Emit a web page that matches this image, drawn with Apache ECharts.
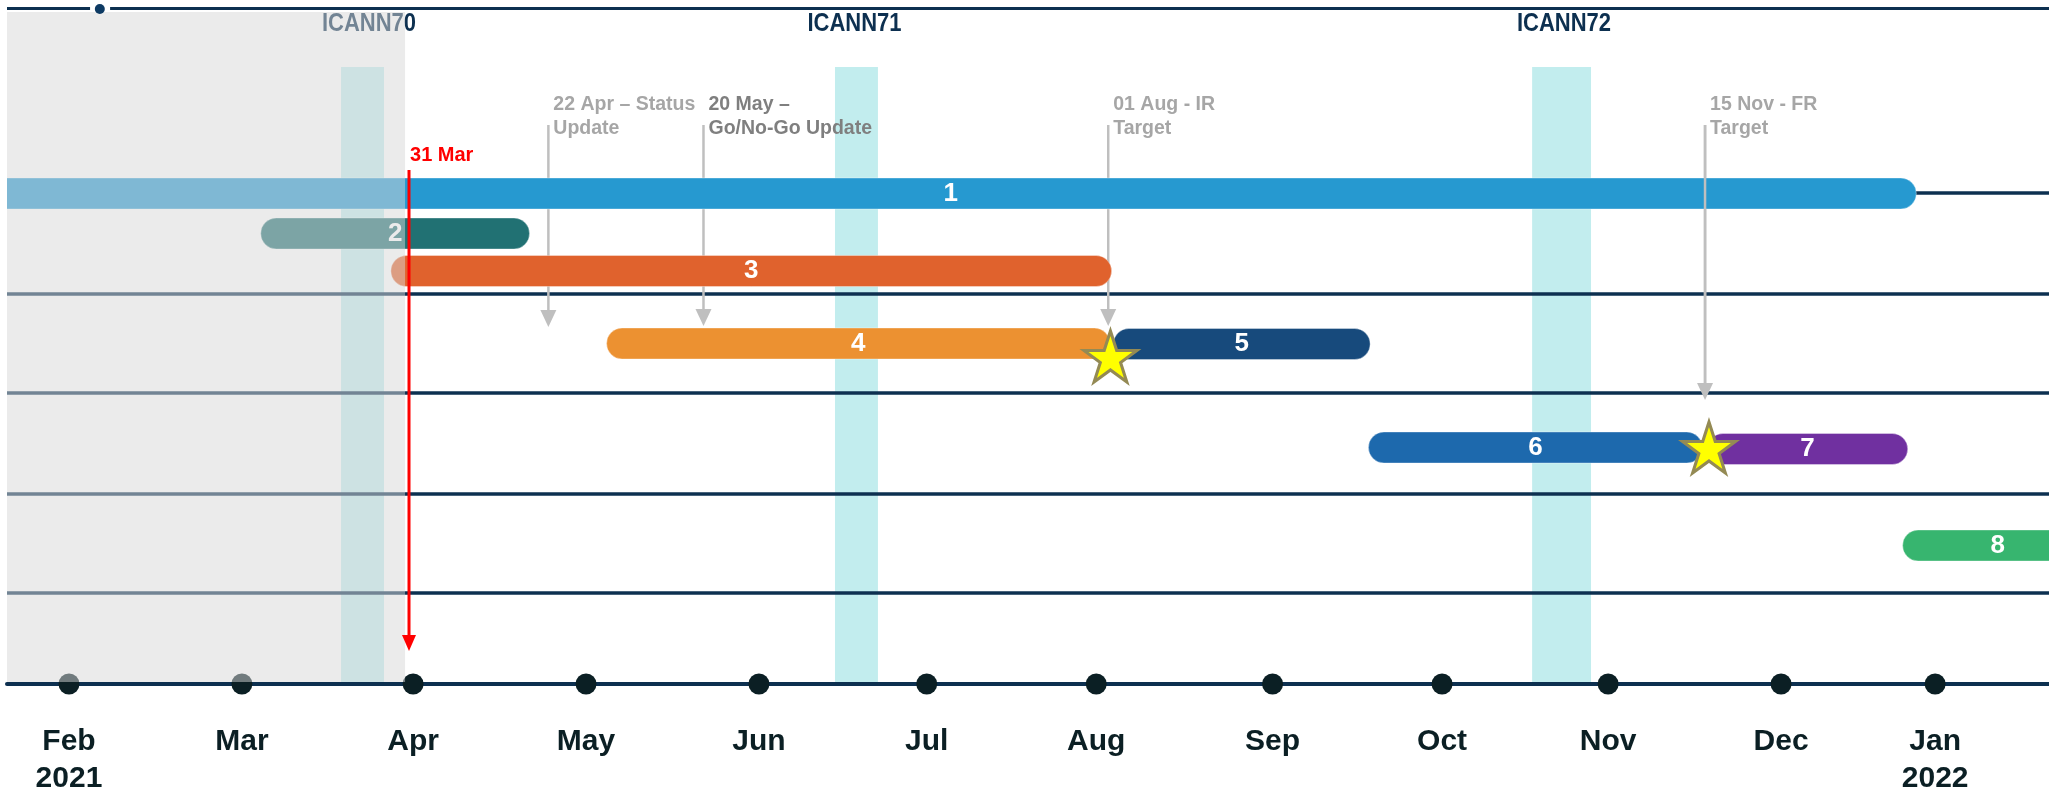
<!DOCTYPE html>
<html><head><meta charset="utf-8">
<script src="https://cdn.jsdelivr.net/npm/echarts@6/dist/echarts.min.js"></script>
<style>html,body{margin:0;padding:0;background:#fff}#chart{width:2049px;height:796px}</style>
</head><body><div id="chart"></div>
<script>
// x scale: month units, 0 = start of Feb 2021, 1 = Mar, ... ; y scale: lane units (top -> bottom)
const monthLabels = ['Feb\n2021','Mar','Apr','May','Jun','Jul','Aug','Sep','Oct','Nov','Dec','Jan\n2022'];
const monthTicks  = [0, 1.01, 2.01, 3.02, 4.03, 5.01, 6.0, 7.03, 8.02, 8.99, 10.0, 10.9];

const taskNames = ['1','2','3','4','5','6','7','8'];
const taskStart = [-0.49, 1.12, 1.88, 3.14, 6.10, 7.59, 9.57, 10.71];
const taskEnd   = [10.79, 2.69, 6.09, 6.08, 7.60, 9.54, 10.74, 11.82];
const taskLane  = [1.995, 2.395, 2.77, 3.495, 3.50, 4.535, 4.55, 5.515];

const icannNames  = ['ICANN70','ICANN71','ICANN72'];
const icannStart  = [1.589, 4.474, 8.546];
const icannEnd    = [1.840, 4.725, 8.890];
const icannLabelX = [1.752, 4.588, 8.732];

const markerTexts   = ['22 Apr – Status\nUpdate','20 May –\nGo/No-Go Update','01 Aug - IR\nTarget','15 Nov - FR\nTarget'];
const markerX       = [2.80, 3.706, 6.07, 9.556];
const markerTopLane = [1.31, 1.31, 1.31, 1.31];
const markerTipLane = [3.33, 3.32, 3.32, 4.06];

const starX    = [6.083, 9.579];
const starLane = [3.625, 4.535];

const todayText = ['31 Mar'];
const todayX = [1.986];
const todayTopLane = [1.76];
const todayTipLane = [6.57];

const pastEnd = [1.963];
const rowLines = [1.99, 3, 3.99, 5, 5.99];
const headerLane = 0.14;
const headerDotX = [0.18];

// ---- styles ----
const X_MIN = -0.3621, X_MAX = 11.565, Y_MIN = 0.1, Y_MAX = 6.9;
const taskColors = ['#2699D0','#217173','#E0622D','#EC9131','#174A7C','#1D69AD','#7030A0','#37B56F'];
const markerColors = ['#A6A6A6','#7F7F7F','#A6A6A6','#A6A6A6'];
const markerInFront = [false, false, false, true];
const NAVY = '#0D3050';
const FONT = '"Liberation Sans", Arial, sans-serif';

const chart = echarts.init(document.getElementById('chart'), null, {renderer:'canvas'});

function markerLine(api, col){
  const top = api.coord([api.value(0), api.value(1)]);
  const tip = api.coord([api.value(0), api.value(2)]);
  return {type:'line', shape:{x1:top[0], y1:top[1], x2:tip[0], y2:tip[1]-15}, style:{stroke:col, lineWidth:2.5}};
}

const option = {
  animation: false,
  grid: {left: 7, right: 0, top: 4, bottom: 112},
  xAxis: {type:'value', min:X_MIN, max:X_MAX, z: 4,
    axisLine:{show:true, onZero:false, lineStyle:{color:NAVY, width:4}},
    axisTick:{show:false}, axisLabel:{show:false}, splitLine:{show:false}},
  yAxis: {type:'value', inverse:true, min:Y_MIN, max:Y_MAX, show:false},
  series: [
    { // ICANN meeting bands
      type:'custom', z:1, silent:true, clip:true,
      data: icannNames.map((n,i)=>[icannStart[i], icannEnd[i], icannLabelX[i]]),
      renderItem(params, api){
        const i = params.dataIndex;
        const a = api.coord([api.value(0), 0.73]);
        const b = api.coord([api.value(1), Y_MAX]);
        const lab = api.coord([api.value(2), 0.30]);
        return {type:'group', children:[
          {type:'rect', shape:{x:a[0], y:a[1], width:b[0]-a[0], height:b[1]-a[1]}, style:{fill:'#C2EDEE'}},
          {type:'text', x:lab[0], y:lab[1], scaleX:0.88, style:{text:icannNames[i], fill:NAVY, font:'bold 25px '+FONT, align:'center', verticalAlign:'middle'}}
        ]};
      }
    },
    { // row separators
      type:'custom', z:1, silent:true,
      data: rowLines.map(v=>[v]),
      renderItem(params, api){
        const a = api.coord([X_MIN, api.value(0)]);
        const b = api.coord([X_MAX, api.value(0)]);
        return {type:'line', shape:{x1:a[0], y1:a[1], x2:b[0], y2:b[1]}, style:{stroke:NAVY, lineWidth:3.5}};
      }
    },
    { // milestone arrows
      type:'custom', z:2, silent:true,
      data: markerX.map((x,i)=>[x, markerTopLane[i], markerTipLane[i]]),
      renderItem(params, api){
        const i = params.dataIndex;
        const top = api.coord([api.value(0), api.value(1)]);
        const tip = api.coord([api.value(0), api.value(2)]);
        const ah = 17, aw = 16;
        return {type:'group', children:[
          markerLine(api, '#BFBFBF'),
          {type:'polygon', shape:{points:[[tip[0]-aw/2, tip[1]-ah],[tip[0]+aw/2, tip[1]-ah],[tip[0], tip[1]]]}, style:{fill:'#BFBFBF'}},
          {type:'text', x:top[0]+5, y:top[1]-32, style:{text:markerTexts[i], fill:markerColors[i], font:'bold 19.5px '+FONT, lineHeight:24, verticalAlign:'top', align:'left'}}
        ]};
      }
    },
    { // task bars
      type:'custom', z:3, silent:true, clip:true,
      data: taskNames.map((n,i)=>[taskStart[i], taskEnd[i], taskLane[i]]),
      renderItem(params, api){
        const i = params.dataIndex;
        const s = api.coord([api.value(0), api.value(2)]);
        const e = api.coord([api.value(1), api.value(2)]);
        const h = api.size([0, 0.31])[1];
        const r = h/2;
        const rl = api.value(0) < X_MIN ? 0 : r;
        const rr = api.value(1) > X_MAX ? 0 : r;
        return {type:'rect',
          shape:{x:s[0], y:s[1]-h/2, width:e[0]-s[0], height:h, r:[rl, rr, rr, rl]},
          style:{fill:taskColors[i], stroke:'rgba(255,255,255,0.35)', lineWidth:1},
          textContent:{style:{text:taskNames[i], fill:'#FFFFFF', font:'bold 26px '+FONT}},
          textConfig:{position:'inside'}};
      }
    },
    { // arrow shafts that sit in front of the bars
      type:'custom', z:3.5, silent:true,
      data: markerX.map((x,i)=>[x, markerTopLane[i], markerTipLane[i]]).filter((d,i)=>markerInFront[i]),
      renderItem(params, api){ return markerLine(api, '#BFBFBF'); }
    },
    { // month markers on the time axis
      type:'scatter', z:5, silent:true,
      symbol:'circle', symbolSize:21,
      itemStyle:{color:'#0B1F24', opacity:1},
      data: monthTicks.map(v=>[v, Y_MAX]),
      label:{show:true, position:'bottom', distance:29,
        formatter:p=>monthLabels[p.dataIndex],
        color:'#0B1F24', fontSize:30, fontWeight:'bold', fontFamily:FONT, lineHeight:37, align:'center'}
    },
    { // milestone stars
      type:'scatter', z:6, silent:true,
      symbol:'path://M0,-1 L0.2245,-0.309 L0.951,-0.309 L0.363,0.118 L0.588,0.809 L0,0.382 L-0.588,0.809 L-0.363,0.118 L-0.951,-0.309 L-0.2245,-0.309 Z',
      symbolSize:[53,51],
      itemStyle:{color:'#FFFF00', borderColor:'#948A54', borderWidth:3, opacity:1},
      data: starX.map((x,i)=>[x, starLane[i]])
    },
    { // past period shading
      type:'custom', z:10, silent:true, clip:true,
      data: pastEnd.map(v=>[X_MIN, v]),
      renderItem(params, api){
        const a = api.coord([api.value(0), 0.18]);
        const b = api.coord([api.value(1), 6.88]);
        return {type:'rect', shape:{x:a[0], y:a[1], width:b[0]-a[0], height:b[1]-a[1]}, style:{fill:'rgba(215,215,215,0.5)'}};
      },
      markLine:{silent:true, symbol:'none', label:{show:false},
        lineStyle:{color:NAVY, width:3, type:'solid'},
        data:[
          [{coord:[X_MIN, headerLane]}, {coord:[0.123, headerLane]}],
          [{coord:[0.24, headerLane]}, {coord:[X_MAX, headerLane]}]
        ]}
    },
    { // header dot
      type:'scatter', z:11, silent:true, symbol:'circle', symbolSize:10,
      itemStyle:{color:'#0D3A63', opacity:1},
      data: headerDotX.map(x=>[x, 0.15])
    },
    { // today line
      type:'custom', z:11, silent:true,
      data: todayX.map((x,i)=>[x, todayTopLane[i], todayTipLane[i]]),
      renderItem(params, api){
        const i = params.dataIndex;
        const top = api.coord([api.value(0), api.value(1)]);
        const tip = api.coord([api.value(0), api.value(2)]);
        const ah = 16, aw = 14;
        return {type:'group', children:[
          {type:'line', shape:{x1:top[0], y1:top[1], x2:tip[0], y2:tip[1]-ah+2}, style:{stroke:'#FF0000', lineWidth:3}},
          {type:'polygon', shape:{points:[[tip[0]-aw/2, tip[1]-ah],[tip[0]+aw/2, tip[1]-ah],[tip[0], tip[1]]]}, style:{fill:'#FF0000'}},
          {type:'text', x:top[0]+1, y:top[1]-15, style:{text:todayText[i], fill:'#FF0000', font:'bold 20px '+FONT, verticalAlign:'middle', align:'left'}}
        ]};
      }
    }
  ]
};
chart.setOption(option);
</script>
</body></html>
